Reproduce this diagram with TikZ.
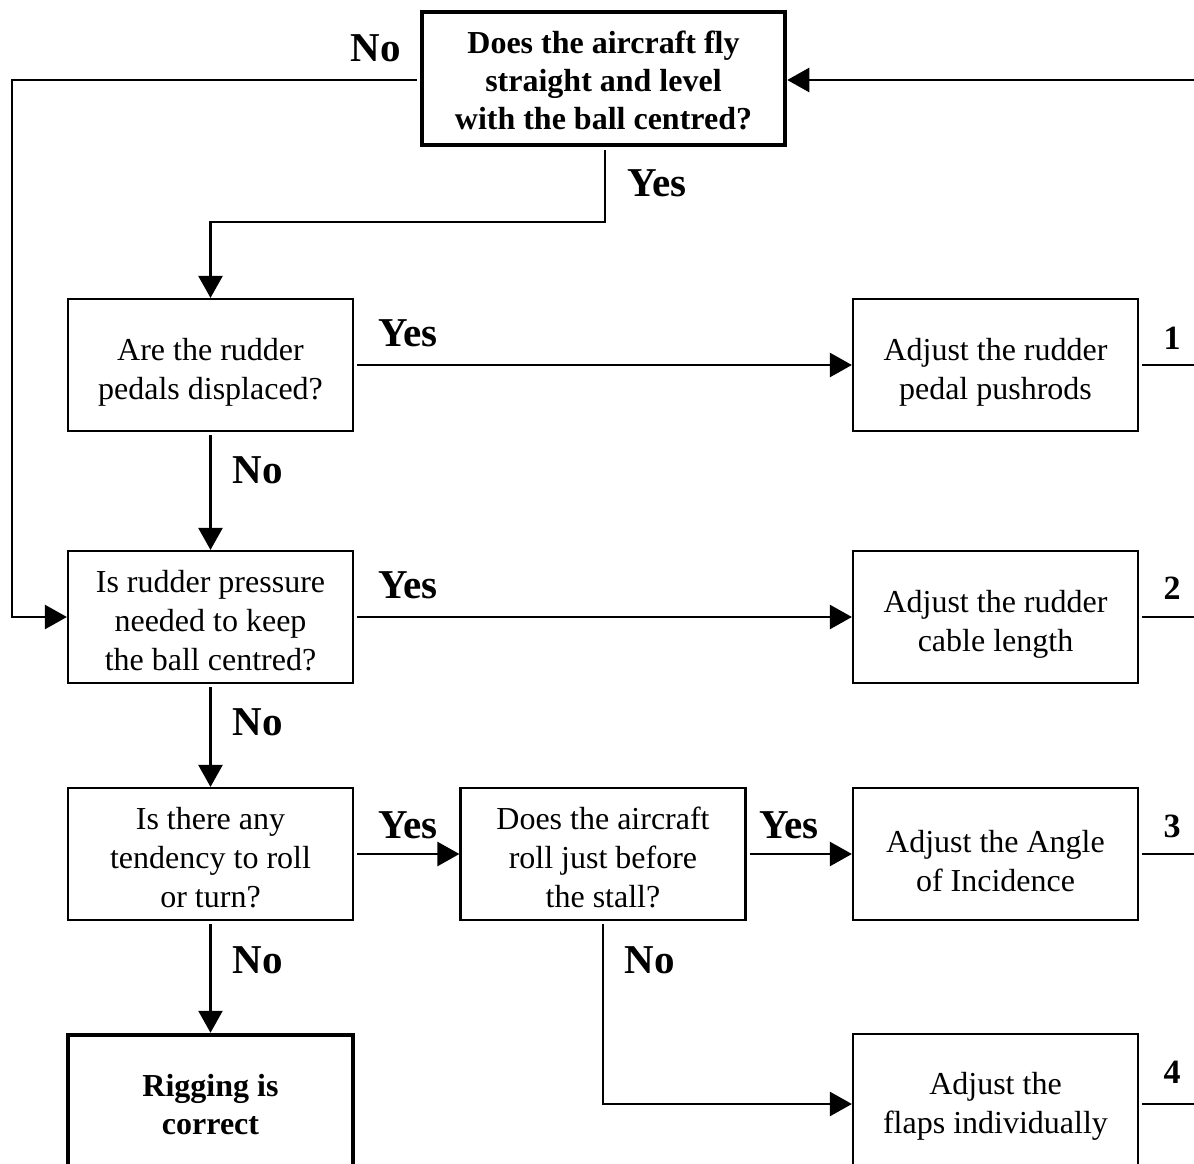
\documentclass[tikz,border=0pt]{standalone}
\usepackage{fontspec}
\setmainfont{Liberation Serif}
\usetikzlibrary{arrows.meta,calc}
\newcommand\upst[1]{\rule{0pt}{#1pt}}
\begin{document}
\begin{tikzpicture}[x=1pt,y=-1pt,
  box/.style={draw,line width=2.2pt,rectangle,minimum width=285pt,minimum height=132pt,align=center,inner sep=0pt,font=\fontsize{32}{39}\selectfont},
  boldbox/.style={box,line width=4.5pt,font=\bfseries\fontsize{32}{38}\selectfont},
  conn/.style={line width=2.5pt,shorten <=3pt},
  arr/.style={conn,-{Triangle[length=22pt,width=24pt]}},
  lbl/.style={font=\bfseries\fontsize{41}{48}\selectfont,inner sep=0pt},
  num/.style={font=\bfseries\fontsize{34}{40}\selectfont,inner sep=0pt}]
\useasboundingbox (0,0) rectangle (1194,1164);
\fill[white] (0,0) rectangle (1194,1164);
\clip (0,0) rectangle (1194,1164);

\node[boldbox,minimum width=363pt,minimum height=133pt] (top) at (603.5,78.5) {\upst{26}Does the aircraft fly\\straight and level\\with the ball centred?};
\node[box] (A) at (210.5,365) {\upst{36}Are the rudder\\pedals displaced?};
\node[box] (R1) at (995.5,365) {\upst{36}Adjust the rudder\\pedal pushrods};
\node[box] (B) at (210.5,617) {\upst{30}Is rudder pressure\\needed to keep\\the ball centred?};
\node[box] (R2) at (995.5,617) {\upst{36}Adjust the rudder\\cable length};
\node[box] (C) at (210.5,854) {\upst{30}Is there any\\tendency to roll\\or turn?};
\node[box] (D) at (603,854) {\upst{30}Does the aircraft\\roll just before\\the stall?};
\node[box] (R3) at (995.5,854) {\upst{36}Adjust the Angle\\of Incidence};
\node[boldbox,minimum height=140pt] (E) at (210.5,1105) {Rigging is\\correct};
\node[box,minimum height=140pt] (R4) at (995.5,1104) {\upst{27}Adjust the\\flaps individually};

\coordinate (j1) at (605,222);
\coordinate (lft) at (12,80);
\coordinate (ex) at (1197,80);

\draw[arr] (top.south -| j1) -- (j1) -| (A.north);
\draw[arr] (top.west |- lft) -- (lft) |- (B.west);
\draw[arr] (A.east) -- (R1.west);
\draw[arr] (A.south) -- (B.north);
\draw[arr] (B.east) -- (R2.west);
\draw[arr] (B.south) -- (C.north);
\draw[arr] (C.east) -- (D.west);
\draw[arr] (D.east) -- (R3.west);
\draw[arr] (C.south) -- (E.north);
\draw[arr] (D.south) |- (R4.west);
\draw[conn] (R1.east) -- (R1.east -| ex);
\draw[conn] (R2.east) -- (R2.east -| ex);
\draw[conn] (R3.east) -- (R3.east -| ex);
\draw[conn] (R4.east) -- (R4.east -| ex);
\draw[arr] (ex) -- (top.east |- ex);

\node[lbl] (l0) at (376,48) {No};
\node[lbl] (l1) at (657,183) {Yes};
\node[lbl] (l2) at (408,333) {Yes};
\node[lbl] (l3) at (258,470) {No};
\node[lbl] (l4) at (408,585) {Yes};
\node[lbl] (l5) at (258,722) {No};
\node[lbl] (l6) at (408,825) {Yes};
\node[lbl] (l7) at (789,825) {Yes};
\node[lbl] (l8) at (258,960) {No};
\node[lbl] (l9) at (650,960) {No};
\node[num] (n1) at (1172,338) {1};
\node[num] (n2) at (1172,588) {2};
\node[num] (n3) at (1172,826) {3};
\node[num] (n4) at (1172,1072) {4};
\end{tikzpicture}
\end{document}
